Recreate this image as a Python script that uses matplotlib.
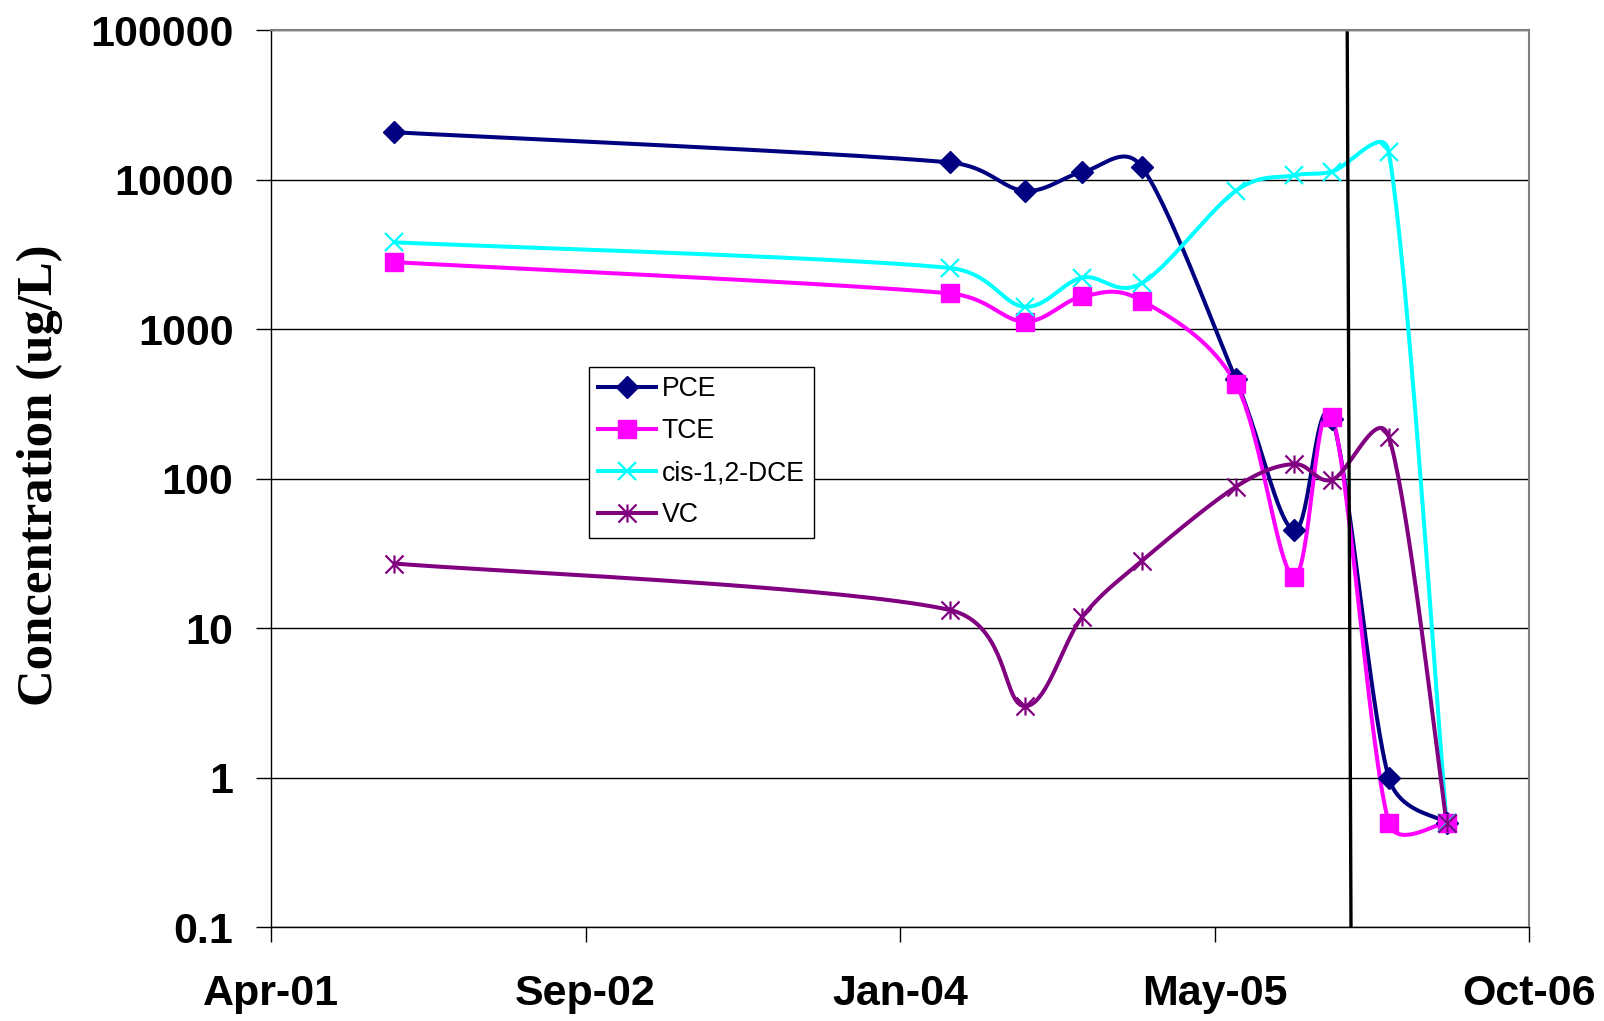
import numpy as np
import matplotlib
matplotlib.use("Agg")
import matplotlib.pyplot as plt
import matplotlib.dates as mdates
from matplotlib.path import Path
from datetime import datetime

# sampling dates and concentrations (ug/L)
dates = ['2001-11-01', '2004-04-02', '2004-07-30', '2004-10-30', '2005-02-01',
         '2005-07-01', '2005-10-01', '2005-12-01', '2006-03-01', '2006-06-01']
pce = [20700, 13000, 8400, 11200, 12200, 460, 45, 250, 1, 0.5]
tce = [2800, 1730, 1120, 1650, 1550, 430, 22, 257, 0.5, 0.5]
dce = [3800, 2560, 1410, 2210, 2020, 8400, 10650, 11300, 15300, 0.5]
vc = [27, 13.2, 3, 11.9, 28, 88, 125, 98, 190, 0.5]

# treatment start marker (drawn line, slightly slanted)
event_dates = ['2005-12-25', '2005-12-31']
event_conc = [95500, 0.1]

axis_start = '2001-04-19'
axis_step_days = 500
n_steps = 4
y_ticks = [0.1, 1, 10, 100, 1000, 10000, 100000]
y_labels = ['0.1', '1', '10', '100', '1000', '10000', '100000']

plt.rcParams['font.family'] = ['Liberation Sans', 'DejaVu Sans']

W, H = 1604, 1021
fig = plt.figure(figsize=(W / 100, H / 100), dpi=100)
ax = fig.add_axes([271 / W, 94 / H, 1258 / W, 897 / H])


def to_num(ds):
    return mdates.date2num([datetime.strptime(d, '%Y-%m-%d') for d in ds])


x0 = to_num([axis_start])[0]
x1 = x0 + axis_step_days * n_steps
px_per_day = 1258 / (x1 - x0)
px_per_dec = 897 / 6.0


def smooth(xs, ys, n=40):
    # bezier smoothing done in screen units, like a spreadsheet "smoothed line"
    pts = np.column_stack([(np.asarray(xs) - x0) * px_per_day,
                           np.log10(ys) * px_per_dec])
    out = [pts[0]]
    m = len(pts)
    for i in range(m - 1):
        p0 = pts[i - 1] if i > 0 else pts[i]
        p1, p2 = pts[i], pts[i + 1]
        p3 = pts[i + 2] if i + 2 < m else pts[i + 1]
        seg = np.hypot(*(p2 - p1))
        t1 = (p2 - p0) / 6.0
        t2 = (p3 - p1) / 6.0
        lim = 0.5 * seg
        if np.hypot(*t1) > lim:
            t1 = t1 * lim / np.hypot(*t1)
        if np.hypot(*t2) > lim:
            t2 = t2 * lim / np.hypot(*t2)
        c1, c2 = p1 + t1, p2 - t2
        t = np.linspace(0, 1, n)[1:, None]
        curve = ((1 - t) ** 3 * p1 + 3 * (1 - t) ** 2 * t * c1
                 + 3 * (1 - t) * t ** 2 * c2 + t ** 3 * p2)
        out.extend(curve)
    out = np.array(out)
    return out[:, 0] / px_per_day + x0, 10 ** (out[:, 1] / px_per_dec)


# asterisk marker: an x with a vertical bar
star = Path([(-0.5, -0.5), (0.5, 0.5), (-0.5, 0.5), (0.5, -0.5), (0, -0.5), (0, 0.5)],
            [Path.MOVETO, Path.LINETO, Path.MOVETO, Path.LINETO, Path.MOVETO, Path.LINETO])

xd = to_num(dates)
series = [
    ('PCE', pce, '#000080', 'D', 11, 1.0),
    ('TCE', tce, '#FF00FF', 's', 13, 1.0),
    ('cis-1,2-DCE', dce, '#00FFFF', 'x', 13, 1.6),
    ('VC', vc, '#800080', star, 13, 1.6),
]
LW = 2.9
handles = []
for name, vals, col, mk, ms, mew in series:
    sx, sy = smooth(xd, vals)
    ax.plot(sx, sy, color=col, lw=LW, solid_capstyle='round', zorder=3)
    ax.plot(xd, vals, ls='none', marker=mk, ms=ms, color=col, mec=col,
            mfc=col, mew=mew, zorder=4)
    h, = ax.plot([], [], color=col, lw=LW, marker=mk, ms=ms, mec=col,
                 mfc=col, mew=mew)
    h.set_label(name)
    handles.append(h)

ax.plot(to_num(event_dates), event_conc, color='black', lw=2.4, zorder=5)

ax.set_yscale('log')
ax.set_ylim(0.1, 100000)
ax.set_xlim(x0, x1)

xt = [x0 + axis_step_days * k for k in range(n_steps + 1)]
xl = [mdates.num2date(v).strftime('%b-%y') for v in xt]
ax.set_xticks(xt)
ax.set_xticklabels(xl, fontsize=31, fontweight='bold')
ax.set_yticks(y_ticks)
ax.set_yticklabels(y_labels, fontsize=31, fontweight='bold')
ax.yaxis.set_minor_locator(matplotlib.ticker.NullLocator())
ax.tick_params(axis='both', direction='out', length=11, width=1, color='black')
ax.tick_params(axis='x', pad=23)
ax.tick_params(axis='y', pad=16)

ax.grid(axis='y', which='major', color='black', lw=1)
ax.set_axisbelow(True)
for s in ('left', 'bottom'):
    ax.spines[s].set_color('black')
    ax.spines[s].set_linewidth(1)
for s in ('top', 'right'):
    ax.spines[s].set_color('#808080')
    ax.spines[s].set_linewidth(1.5)

fig.text(40 / W, 1 - 475 / H, 'Concentration (ug/L)', rotation=90,
         ha='center', va='center', fontsize=36.5, fontweight='bold',
         family=['Liberation Serif', 'DejaVu Serif'])

leg = ax.legend(handles=handles, loc='upper left',
                bbox_to_anchor=(589 / W, 1 - 367 / H), bbox_transform=fig.transFigure,
                fontsize=19.2, frameon=True, fancybox=False, framealpha=1,
                edgecolor='black', borderpad=0.35, labelspacing=0.6,
                handlelength=2.15, handletextpad=0.22, borderaxespad=0)
leg.get_frame().set_linewidth(1)

fig.savefig('out.png', dpi=100)
